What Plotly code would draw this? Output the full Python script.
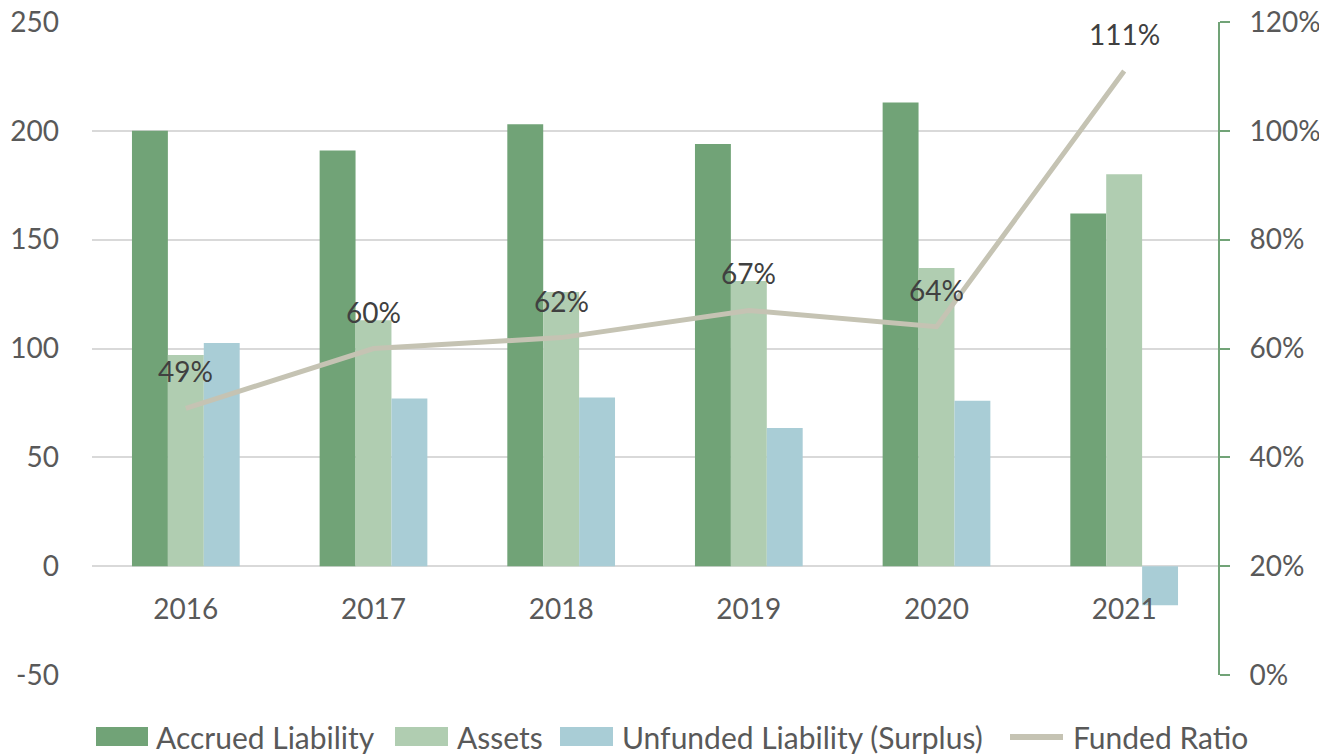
import plotly.graph_objects as go

years = ["2016", "2017", "2018", "2019", "2020", "2021"]
accrued_liability = [200, 191, 203, 194, 213, 162]
assets = [97, 113, 126, 131, 137, 180]
unfunded_liability = [102.5, 77, 77.5, 63.5, 76, -18]
funded_ratio = [0.49, 0.60, 0.62, 0.67, 0.64, 1.11]
left_ticks = [-50, 0, 50, 100, 150, 200, 250]
series_names = ["Accrued Liability", "Assets", "Unfunded Liability (Surplus)", "Funded Ratio"]

FONT = "Lato"
TICK_COLOR = "#595959"
COLORS = ["#71A377", "#B0CDB1", "#A9CDD6", "#C5C3B3"]

fig = go.Figure()
for name, vals, col in zip(series_names[:3], [accrued_liability, assets, unfunded_liability], COLORS[:3]):
    fig.add_trace(go.Bar(x=years, y=vals, name=name, showlegend=False,
                         marker=dict(color=col, line=dict(width=0))))
fig.add_trace(go.Scatter(x=years, y=funded_ratio, name=series_names[3], yaxis="y2",
                         showlegend=False, mode="lines",
                         line=dict(color=COLORS[3], width=5)))

# category axes take the category index for annotation positions
for i, v in enumerate(funded_ratio):
    fig.add_annotation(x=i, y=v, xref="x", yref="y2", text=f"{v:.0%}", showarrow=False,
                       yshift=37, font=dict(family=FONT, size=28, color="#404040"))

# ---- legend drawn below the plot (layout in page pixels) ----
PLOT_L, PLOT_W, PLOT_B, PLOT_H = 92, 1126, 675, 653
def px(xp):
    return (xp - PLOT_L) / PLOT_W
def py(yp):
    return (PLOT_B - yp) / PLOT_H

legend_layout = [  # (swatch x0, swatch x1, text x)
    (96, 148, 154),
    (395, 448, 455),
    (560, 613, 620),
    (1010, 1063, 1071),
]
LEG_Y0, LEG_Y1, LEG_YC = 746, 727, 737
for k, (name, col) in enumerate(zip(series_names, COLORS)):
    x0, x1, xt = legend_layout[k]
    if k < 3:
        fig.add_shape(type="rect", xref="paper", yref="paper",
                      x0=px(x0), x1=px(x1), y0=py(LEG_Y0), y1=py(LEG_Y1),
                      fillcolor=col, line=dict(width=0))
    else:
        fig.add_shape(type="line", xref="paper", yref="paper",
                      x0=px(x0), x1=px(x1), y0=py(LEG_YC), y1=py(LEG_YC),
                      line=dict(color=col, width=6))
    fig.add_annotation(xref="paper", yref="paper", x=px(xt), y=py(LEG_YC),
                       xanchor="left", yanchor="middle", showarrow=False, text=name,
                       font=dict(family=FONT, size=30, color=TICK_COLOR))

# page body has an 8px margin, so the figure is placed at (8, 8)
fig.update_layout(
    width=1319, height=746,
    margin=dict(l=84, r=109, t=14, b=79, autoexpand=False),
    paper_bgcolor="white", plot_bgcolor="white",
    barmode="group", bargap=0.426, bargroupgap=0,
    font=dict(family=FONT, size=28, color=TICK_COLOR),
    showlegend=False,
    xaxis=dict(type="category", range=[-0.5, 5.5], anchor="free",
               position=(0 - (-50)) / 300,
               showline=False, showgrid=False, ticks="", ticklabelstandoff=24,
               tickfont=dict(family=FONT, size=28, color=TICK_COLOR)),
    yaxis=dict(range=[-50, 250], tickvals=left_ticks,
               ticktext=[str(t) for t in left_ticks],
               showgrid=True, gridcolor="#D9D9D9",
               gridwidth=2, zeroline=False, showline=False, ticks="",
               ticklabelstandoff=32, ticklabeloverflow="allow",
               tickfont=dict(family=FONT, size=28, color=TICK_COLOR)),
    yaxis2=dict(range=[0, 1.2], dtick=0.2, tickformat=".0%", overlaying="y",
                side="right", showgrid=False, zeroline=False, showline=True,
                linecolor="#71A377", linewidth=2, ticks="outside", ticklen=10,
                tickcolor="#71A377", tickwidth=2, ticklabelstandoff=14,
                ticklabeloverflow="allow",
                tickfont=dict(family=FONT, size=28, color=TICK_COLOR)),
)

fig.write_html("out.html")
